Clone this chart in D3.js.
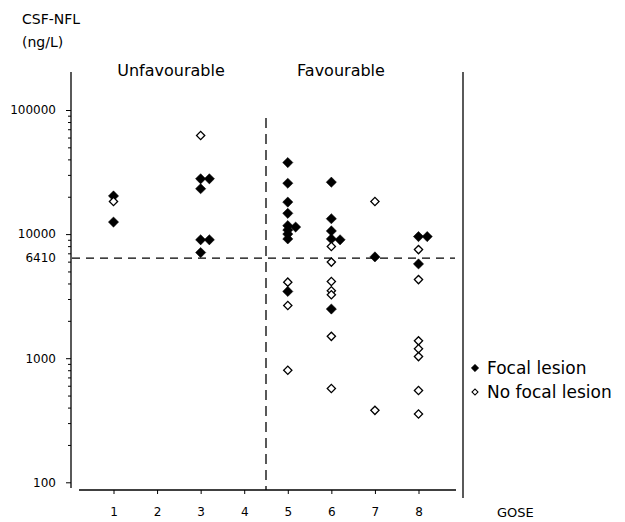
<!DOCTYPE html>
<html>
<head>
<meta charset="utf-8">
<script src="https://cdn.jsdelivr.net/npm/d3@7"></script>
<style>
  html, body { margin: 0; padding: 0; background: #fff; }
  svg { display: block; font-family: "DejaVu Sans", sans-serif; }
  .tick line { stroke: #000; }
  .tick text { fill: #000; }
</style>
</head>
<body>
<svg id="chart" width="625" height="522"></svg>
<script>
// GOSE score (small fractional offsets separate coincident points)
const gose = [1, 1, 1, 3, 3, 3.2, 3, 3, 3.2, 3,
  5, 5, 5, 5, 5, 5, 5, 5, 5.18, 5, 5, 5, 5,
  6, 6, 6, 6, 6.2, 6, 6, 6, 6, 6, 6, 6, 6,
  7, 7, 7,
  8, 8.2, 8, 8, 8, 8, 8, 8, 8, 8];
// CSF neurofilament light concentration, ng/L
const nfl = [20300, 18300, 12500, 62300, 27900, 27900, 23200, 9000, 9000, 7100,
  37700, 25700, 18100, 14700, 11700, 10800, 10000, 9150, 11400, 4100, 3450, 2660, 800,
  26200, 13300, 10600, 9150, 9000, 7950, 5950, 4150, 3500, 3250, 2490, 1500, 570,
  18300, 6550, 380,
  9550, 9550, 7500, 5750, 4300, 1380, 1190, 1030, 550, 355];
// 1 = focal lesion on imaging, 0 = no focal lesion
const focal = [1, 0, 1, 0, 1, 1, 1, 1, 1, 1,
  1, 1, 1, 1, 1, 1, 1, 1, 1, 0, 1, 0, 0,
  1, 1, 1, 1, 1, 0, 0, 0, 0, 0, 1, 0, 0,
  0, 1, 0,
  1, 1, 0, 1, 0, 0, 0, 0, 0, 0];

const xTicks = [1, 2, 3, 4, 5, 6, 7, 8];
const yTickLabels = [100, 1000, 6410, 10000, 100000];
const yMinorTicks = [];
[100, 1000, 10000].forEach(d => { for (let k = 2; k <= 9; k++) yMinorTicks.push(d * k); });
const cutoffNfl = 6410;
const cutoffGose = 4.5;
const legendItems = ["Focal lesion", "No focal lesion"];

const svg = d3.select("#chart");

const x = d3.scaleLinear().domain([1, 8]).range([113.5, 418.5]);
const y = d3.scaleLog().domain([100, 100000]).range([482.3, 110]);

const diamond = d3.symbol().type(d3.symbolSquare);

// y axis: minor ticks, then labelled major ticks
svg.append("g").attr("transform", "translate(71,0)")
  .call(d3.axisLeft(y).tickValues(yMinorTicks).tickSize(3).tickFormat(""))
  .call(g => g.select(".domain").remove());

const yAxis = svg.append("g").attr("transform", "translate(71,0)")
  .call(d3.axisLeft(y).tickValues(yTickLabels).tickSize(5).tickPadding(10)
    .tickFormat(d3.format("d")))
  .call(g => g.select(".domain").remove())
  .attr("font-family", "DejaVu Sans").attr("font-size", 12);
yAxis.selectAll(".tick").filter(d => d === cutoffNfl).select("line").remove();

svg.append("line").attr("x1", 71).attr("x2", 71).attr("y1", 72).attr("y2", 488)
  .attr("stroke", "#000").attr("stroke-width", 1.3);

// x axis
svg.append("g").attr("transform", "translate(0,490)")
  .call(d3.axisBottom(x).tickValues(xTicks).tickSize(4).tickPadding(13)
    .tickFormat(d3.format("d")))
  .call(g => g.select(".domain").remove())
  .attr("font-family", "DejaVu Sans").attr("font-size", 12);

svg.append("line").attr("x1", 79).attr("x2", 456).attr("y1", 490).attr("y2", 490)
  .attr("stroke", "#000").attr("stroke-width", 1.3);

// right frame line
svg.append("line").attr("x1", 463).attr("x2", 463).attr("y1", 72).attr("y2", 498)
  .attr("stroke", "#000").attr("stroke-width", 1.3);

// cut-off lines
svg.append("line")
  .attr("x1", 72).attr("x2", 455)
  .attr("y1", y(cutoffNfl)).attr("y2", y(cutoffNfl))
  .attr("stroke", "#000").attr("stroke-width", 1.3).attr("stroke-dasharray", "8,6");
svg.append("line")
  .attr("x1", x(cutoffGose)).attr("x2", x(cutoffGose))
  .attr("y1", 118).attr("y2", 490)
  .attr("stroke", "#000").attr("stroke-width", 1.3).attr("stroke-dasharray", "10,6");

// points
const pts = d3.range(gose.length);
svg.append("g").selectAll("path")
  .data(pts)
  .join("path")
  .attr("transform", i => `translate(${x(gose[i])},${y(nfl[i])}) rotate(45)`)
  .attr("d", i => diamond.size(focal[i] ? 52 : 34)())
  .attr("fill", i => focal[i] ? "#000" : "#fff")
  .attr("stroke", "#000")
  .attr("stroke-width", i => focal[i] ? 0.5 : 1.3);

// titles
svg.append("text").attr("x", 22).attr("y", 24).style("font-size", "14px").text("CSF-NFL");
svg.append("text").attr("x", 22).attr("y", 47).style("font-size", "14px").text("(ng/L)");
svg.append("text").attr("x", 171).attr("y", 76).attr("text-anchor", "middle")
  .style("font-size", "16px").text("Unfavourable");
svg.append("text").attr("x", 341).attr("y", 76).attr("text-anchor", "middle")
  .style("font-size", "16px").text("Favourable");
svg.append("text").attr("x", 497).attr("y", 517).style("font-size", "13px").text("GOSE");

// legend
const legend = svg.append("g").attr("transform", "translate(475,368)");
legendItems.forEach((label, i) => {
  const g = legend.append("g").attr("transform", `translate(0,${i * 24})`);
  g.append("path")
    .attr("transform", "rotate(45)")
    .attr("d", diamond.size(i === 0 ? 28 : 18)())
    .attr("fill", i === 0 ? "#000" : "#fff")
    .attr("stroke", "#000")
    .attr("stroke-width", i === 0 ? 0.5 : 1.1);
  g.append("text").attr("x", 12).attr("y", 6).style("font-size", "17px").text(label);
});
</script>
</body>
</html>
